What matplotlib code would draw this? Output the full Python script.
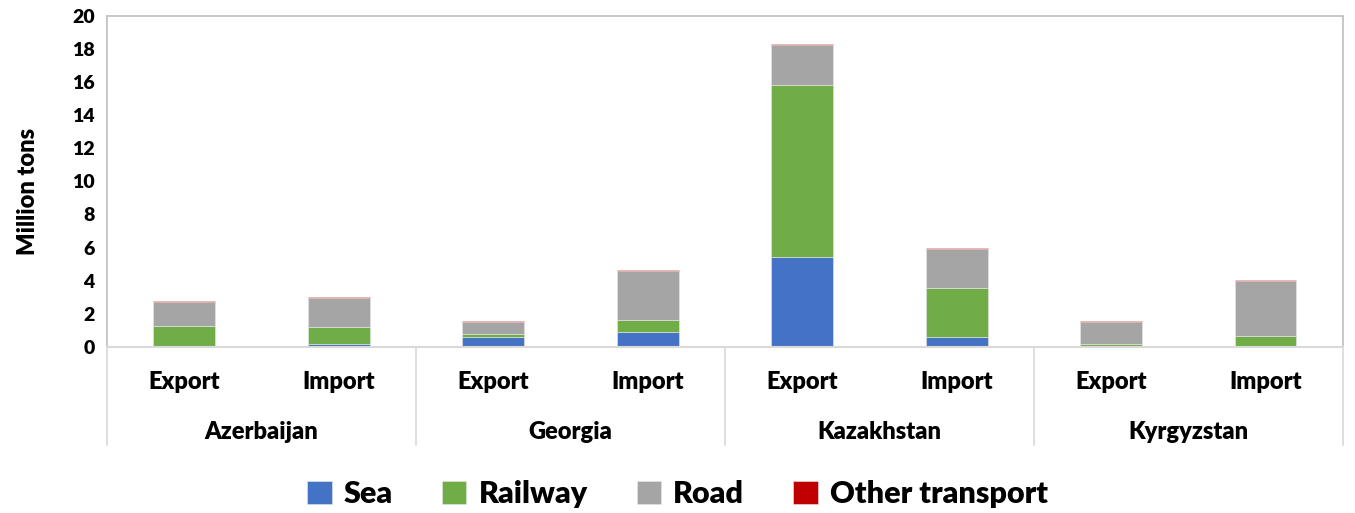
import matplotlib.pyplot as plt
import numpy as np

plt.rcParams['font.family'] = ['Lato', 'DejaVu Sans']

countries = ['Azerbaijan', 'Georgia', 'Kazakhstan', 'Kyrgyzstan']
flows = ['Export', 'Import']
modes = ['Sea', 'Railway', 'Road', 'Other transport']
colors = ['#4472C4', '#70AD47', '#A5A5A5', '#C00000']

# order: AzE, AzI, GeE, GeI, KzE, KzI, KgE, KgI
sea = [0.0, 0.14, 0.58, 0.91, 5.41, 0.60, 0.0, 0.0]
railway = [1.24, 1.04, 0.21, 0.72, 10.40, 2.97, 0.16, 0.64]
road = [1.48, 1.74, 0.70, 2.94, 2.46, 2.33, 1.35, 3.35]
other = [0.06, 0.08, 0.06, 0.06, 0.03, 0.10, 0.04, 0.04]

fig = plt.figure(figsize=(13.55, 5.13), dpi=100)
ax = fig.add_axes([0.079, 0.324, 0.912, 0.645])

x = np.arange(len(sea))
bottom = np.zeros(len(sea))
for vals, c, name in zip([sea, railway, road, other], colors, modes):
    ax.bar(x, vals, 0.4, bottom=bottom, color=c, label=name,
           edgecolor='#e8e8e8', linewidth=0.4)
    bottom += np.array(vals)

ax.set_xlim(-0.5, len(sea) - 0.5)
ax.set_ylim(0, 20)
ax.set_yticks(range(0, 21, 2))
ax.tick_params(axis='y', length=0, labelsize=14, pad=9)
ax.tick_params(axis='x', length=0)
ax.set_xticks([])
for lbl in ax.get_yticklabels():
    lbl.set_fontweight('heavy')
for s in ['top', 'left', 'right']:
    ax.spines[s].set_color('#BFBFBF')
    ax.spines[s].set_linewidth(1.2)
ax.spines['bottom'].set_color('#D9D9D9')
ax.spines['bottom'].set_linewidth(1.5)
ax.set_ylabel('Million tons', fontsize=17, fontweight='heavy')
ax.yaxis.set_label_coords(-0.055, 0.47)

trans = ax.get_xaxis_transform()
for i in x:
    ax.text(i, -0.106, flows[i % 2], transform=trans, ha='center', va='center',
            fontsize=17, fontweight='heavy')
for j, name in enumerate(countries):
    ax.text(2 * j + 0.5, -0.257, name, transform=trans, ha='center', va='center',
            fontsize=17, fontweight='heavy')
for k in range(len(countries) + 1):
    ax.plot([2 * k - 0.5, 2 * k - 0.5], [0, -0.296], transform=trans,
            color='#D9D9D9', linewidth=1.2, clip_on=False)

fig.legend(loc='center', bbox_to_anchor=(0.5, 0.037), ncol=4, frameon=False,
           prop={'size': 22, 'weight': 'heavy'}, handlelength=0.8, handleheight=0.8,
           handletextpad=0.4, columnspacing=1.6)

fig.savefig('out.png', dpi=100)
